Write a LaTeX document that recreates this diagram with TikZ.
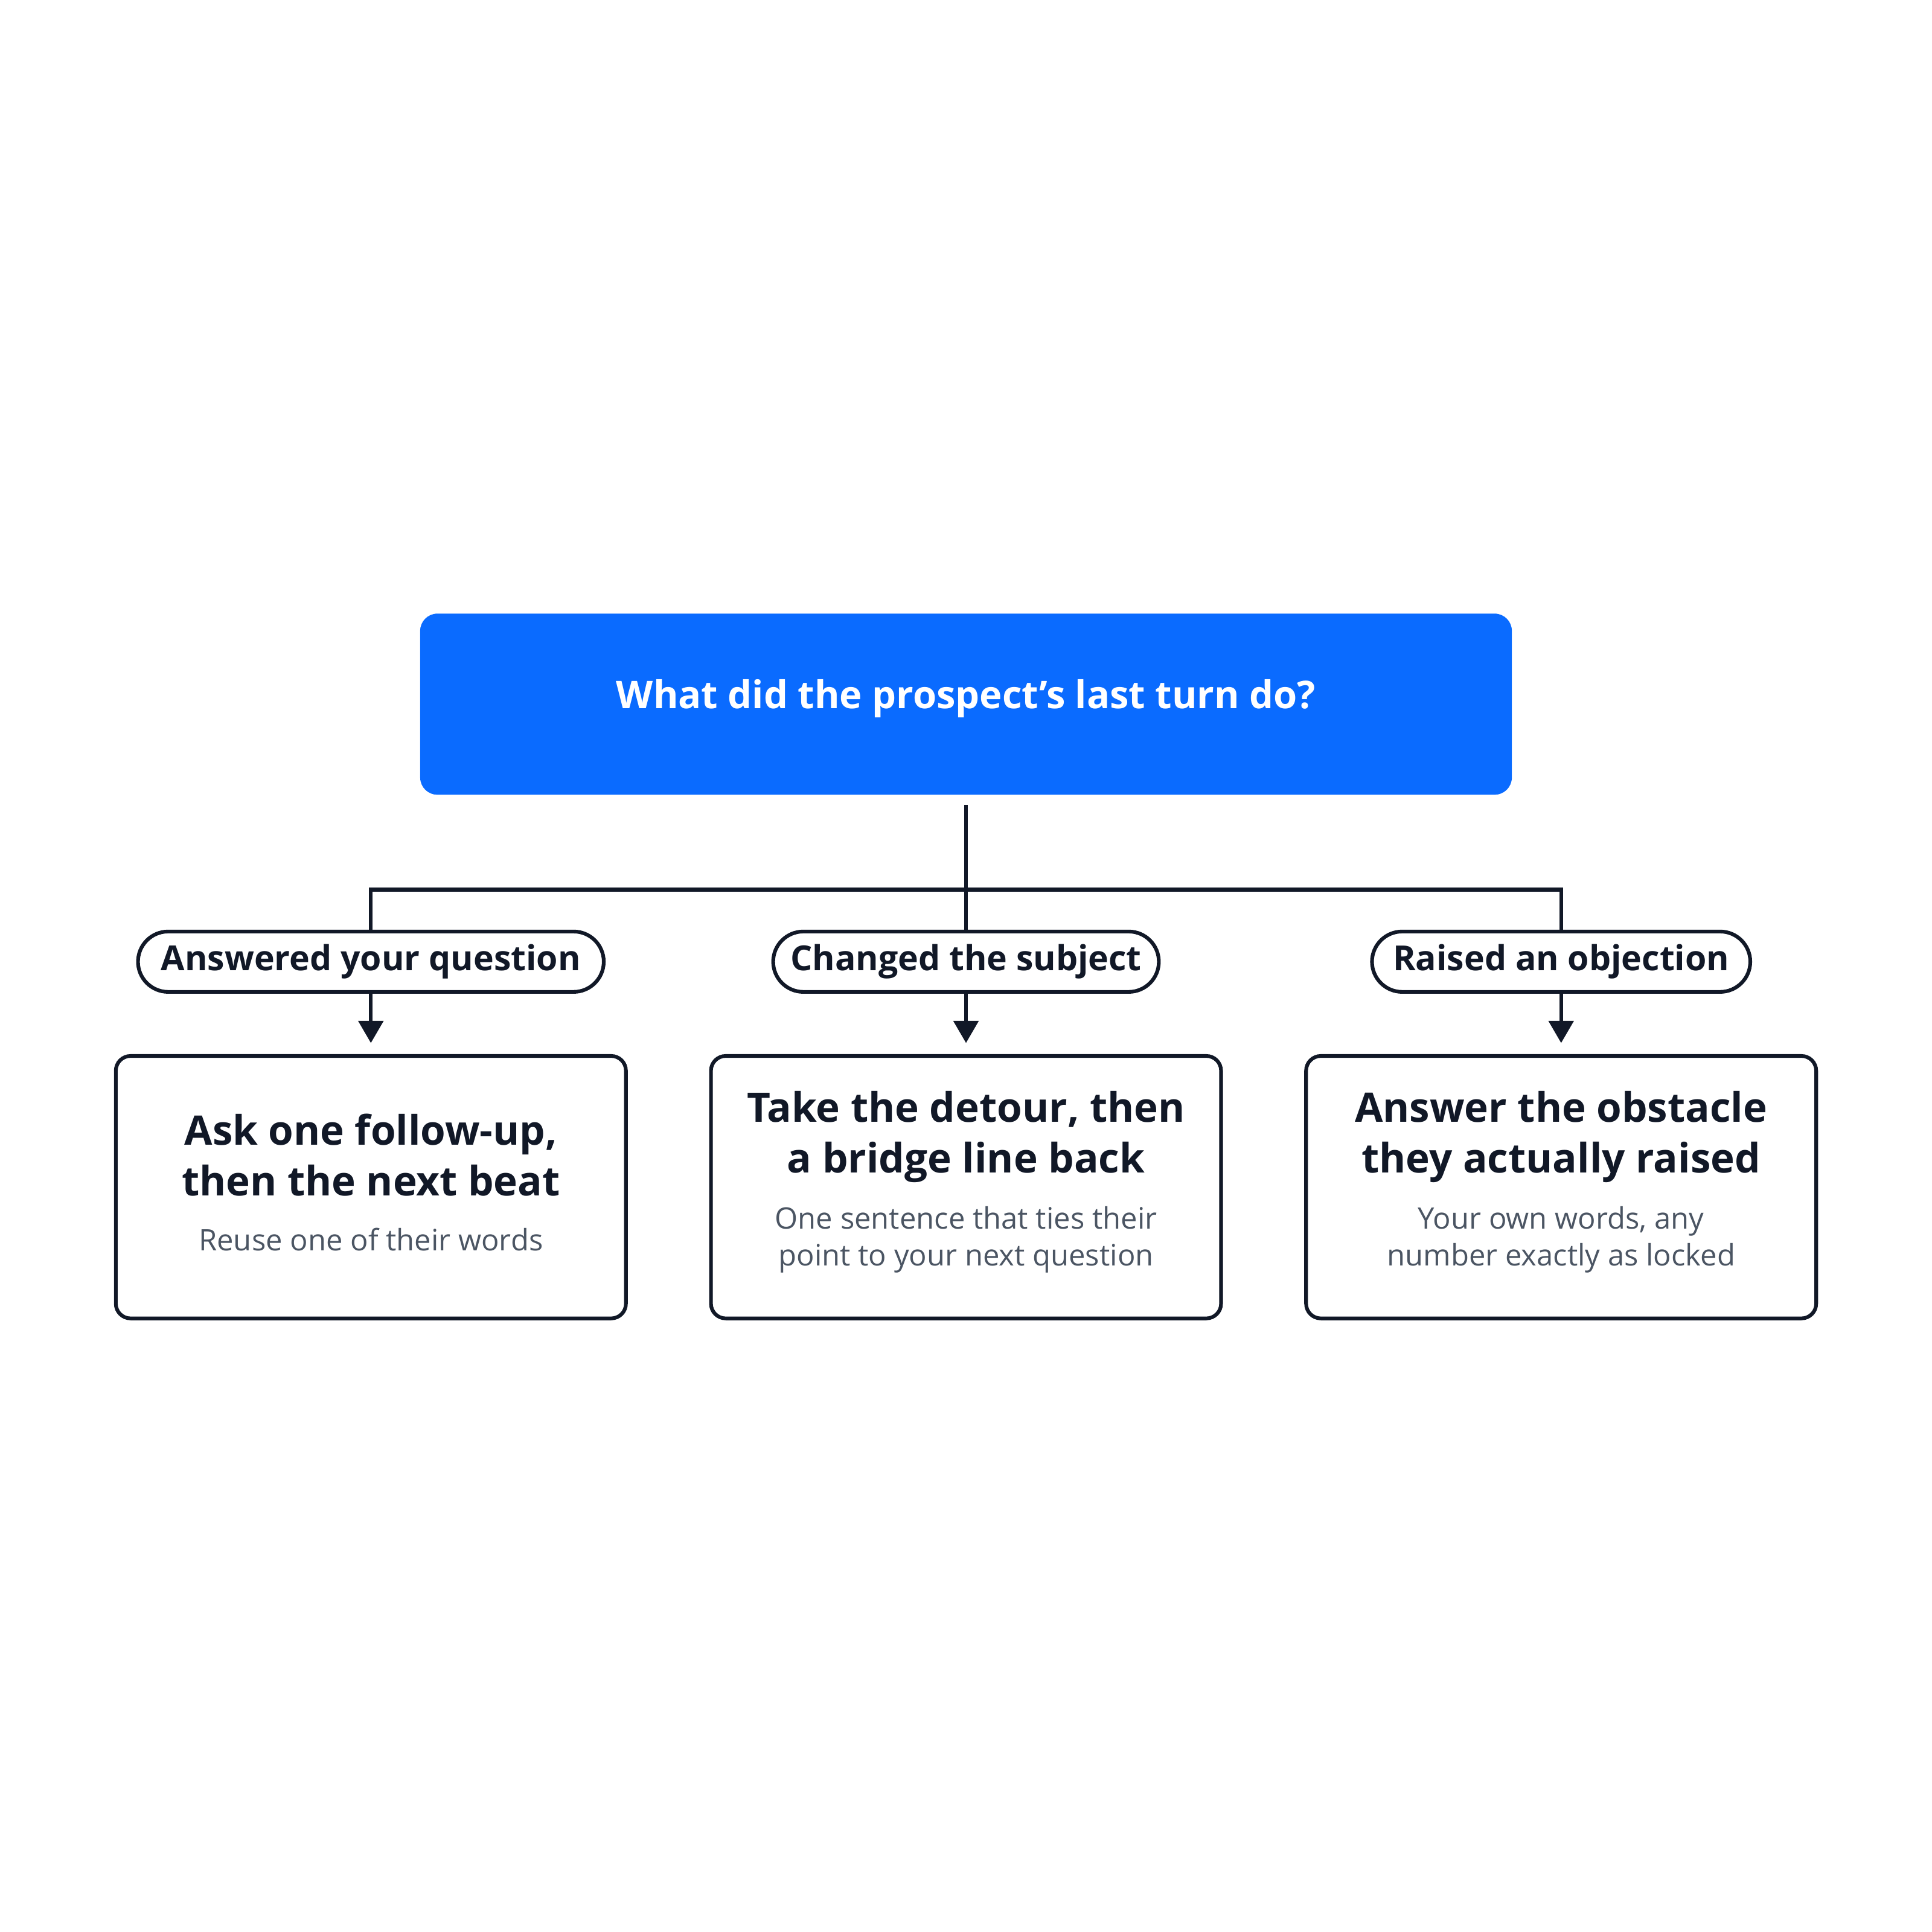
\documentclass[tikz,border=0pt]{standalone}
\usepackage{fontspec}
\setmainfont{Open Sans}
\usetikzlibrary{arrows.meta}
\definecolor{ink}{HTML}{111827}
\definecolor{blu}{HTML}{0A6BFF}
\definecolor{sub}{HTML}{4B5563}
\begin{document}
\begin{tikzpicture}[x=0.5pt,y=-0.5pt,
  line/.style={draw=ink,line width=1.5pt},
  pill/.style={line,rounded corners=12.25pt,minimum height=24.5pt,inner sep=0pt,font=\fontsize{14}{16}\selectfont\bfseries\color{ink}},
  box/.style={line,rounded corners=6pt,minimum width=207pt,minimum height=106.5pt,inner sep=0pt},
  head/.style={font=\fontsize{16.5}{20.5}\selectfont\bfseries,text=ink,align=center},
  subt/.style={font=\fontsize{12}{15}\selectfont,text=sub,align=center},
  arr/.style={line,-{Triangle[length=9pt,width=10pt]}}]
\useasboundingbox (0,0) rectangle (1568,1568);
\node[fill=blu,rounded corners=7pt,minimum width=443pt,minimum height=73.5pt] (title) at (784,571.5) {};
\node[font=\fontsize{15.5}{18}\selectfont\bfseries,text=white] (tt) at (784,567) {What did the prospect's last turn do?};
\node[pill,minimum width=189pt] (p1) at (301,780.5) {Answered your question};
\node[pill,minimum width=156.5pt] (p2) at (784,780.5) {Changed the subject};
\node[pill,minimum width=153.5pt] (p3) at (1267,780.5) {Raised an objection};
\coordinate (j) at (784,722);
\node[box] (b1) at (301,963.5) {};
\node[box] (b2) at (784,963.5) {};
\node[box] (b3) at (1267,963.5) {};
\draw[line] ([yshift=-4pt]title.south) -- (p2.north);
\draw[line] (p1.north) -- (p1.north |- j) -- (p3.north |- j) -- (p3.north);
\draw[arr,shorten >=4.5pt] (p1.south) -- (b1.north);
\draw[arr,shorten >=4.5pt] (p2.south) -- (b2.north);
\draw[arr,shorten >=4.5pt] (p3.south) -- (b3.north);
\node[head] (h1) at (301,937.5) {Ask one follow-up,\\then the next beat};
\node[subt] (s1) at (301,1006) {Reuse one of their words};
\node[head] (h2) at (784,922.5) {Take the detour, then\\a bridge line back};
\node[subt] (s2) at (784,1006) {One sentence that ties their\\point to your next question};
\node[head] (h3) at (1267,922.5) {Answer the obstacle\\they actually raised};
\node[subt] (s3) at (1267,1006) {Your own words, any\\number exactly as locked};
\end{tikzpicture}
\end{document}
